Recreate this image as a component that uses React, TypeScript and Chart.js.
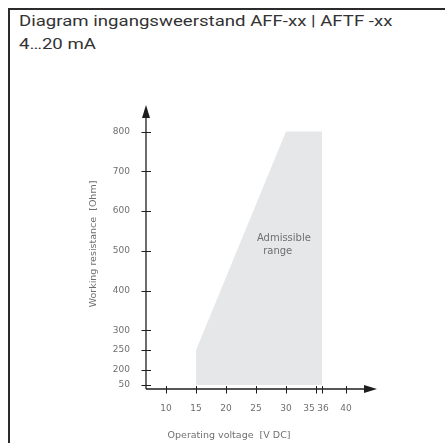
import React, { useEffect, useRef } from "react";
import { Chart, registerables } from "chart.js";

Chart.register(...registerables);

// ---- data ----
const titleLines = ["Diagram ingangsweerstand AFF-xx | AFTF -xx", "4…20 mA"];
const xAxisTitle = "Operating voltage  [V DC]";
const yAxisTitle = "Working resistance  [Ohm]";
const voltageTicks = [10, 15, 20, 25, 30, 35, 36, 40];
const resistanceTicks = [50, 200, 250, 300, 400, 500, 600, 700, 800];
const rangeVoltage = [15, 15, 30, 36, 36];
const rangeResistance = [50, 250, 800, 800, 50];
const areaLabelLines = ["Admissible", "range"];

// broken axis below 200 Ohm (compressed)
const mapR = (r: number) => (r >= 200 ? r : 200 - (200 - r) * 0.25);

const TICK_FONT = '"DejaVu Sans", "Liberation Sans", Roboto, sans-serif';
const TEXT_GREY = "#6f6f6f";
const AXIS_COLOR = "#1e1e1e";

const axesPlugin = {
  id: "customAxes",
  afterDraw(chart: any) {
    const { ctx, chartArea, scales } = chart;
    const xs = scales.x;
    const ys = scales.y;
    const x0 = chartArea.left;
    const y0 = chartArea.bottom;
    ctx.save();
    ctx.strokeStyle = AXIS_COLOR;
    ctx.fillStyle = AXIS_COLOR;
    ctx.lineWidth = 1.3;
    // y axis line
    ctx.beginPath();
    ctx.moveTo(x0, y0);
    ctx.lineTo(x0, chartArea.top + 12);
    ctx.stroke();
    // y arrow
    ctx.beginPath();
    ctx.moveTo(x0, chartArea.top);
    ctx.lineTo(x0 - 4, chartArea.top + 13);
    ctx.lineTo(x0 + 4, chartArea.top + 13);
    ctx.closePath();
    ctx.fill();
    // x axis line
    ctx.beginPath();
    ctx.moveTo(x0, y0);
    ctx.lineTo(chartArea.right - 12, y0);
    ctx.stroke();
    // x arrow
    ctx.beginPath();
    ctx.moveTo(chartArea.right, y0);
    ctx.lineTo(chartArea.right - 13, y0 - 4);
    ctx.lineTo(chartArea.right - 13, y0 + 4);
    ctx.closePath();
    ctx.fill();

    // ticks
    ctx.lineWidth = 1;
    resistanceTicks.forEach((r) => {
      const py = Math.round(ys.getPixelForValue(mapR(r))) + 0.5;
      ctx.beginPath();
      ctx.moveTo(x0 - 4.5, py);
      ctx.lineTo(x0 + 5, py);
      ctx.stroke();
    });
    voltageTicks.forEach((v) => {
      const px = Math.round(xs.getPixelForValue(v)) + 0.5;
      ctx.beginPath();
      ctx.moveTo(px, y0 - 3);
      ctx.lineTo(px, y0 + 4.5);
      ctx.stroke();
    });

    // x tick labels
    ctx.fillStyle = TEXT_GREY;
    ctx.font = `9px ${TICK_FONT}`;
    ctx.textAlign = "center";
    ctx.textBaseline = "middle";
    const nudge: Record<number, number> = { 35: -7, 36: 1 };
    voltageTicks.forEach((v) => {
      const px = xs.getPixelForValue(v) + (nudge[v] || 0);
      ctx.fillText(String(v), px, y0 + 20);
    });

    // axis titles
    ctx.font = `9.5px ${TICK_FONT}`;
    ctx.fillText(xAxisTitle, x0 + 83, y0 + 47);
    ctx.save();
    ctx.translate(x0 - 52, (chartArea.top + chartArea.bottom) / 2 - 3);
    ctx.rotate(-Math.PI / 2);
    ctx.fillText(yAxisTitle, 0, 0);
    ctx.restore();

    // area label
    ctx.font = `10px ${TICK_FONT}`;
    ctx.textAlign = "left";
    ctx.fillText(areaLabelLines[0], xs.getPixelForValue(25.15), ys.getPixelForValue(532));
    ctx.fillText(areaLabelLines[1], xs.getPixelForValue(26.2), ys.getPixelForValue(498));
    ctx.restore();
  },
};

export default function App() {
  const canvasRef = useRef<HTMLCanvasElement | null>(null);

  useEffect(() => {
    if (!canvasRef.current) return;
    const chart = new Chart(canvasRef.current, {
      type: "scatter",
      data: {
        datasets: [
          {
            data: rangeVoltage.map((v, i) => ({ x: v, y: mapR(rangeResistance[i]) })),
            showLine: true,
            fill: "shape",
            backgroundColor: "#e6e7e9",
            borderColor: "rgba(0,0,0,0)",
            borderWidth: 0,
            pointRadius: 0,
            tension: 0,
          } as any,
        ],
      },
      options: {
        responsive: false,
        animation: false,
        devicePixelRatio: 1,
        events: [],
        layout: { padding: { left: 0, top: 105, right: 68, bottom: 0 } },
        plugins: { legend: { display: false }, tooltip: { enabled: false }, title: { display: false } },
        scales: {
          x: {
            type: "linear",
            min: 6.67,
            max: 45.17,
            grid: { display: false, drawTicks: false },
            border: { display: false },
            ticks: { display: false },
            afterFit: (s: any) => {
              s.height = 54;
            },
          },
          y: {
            type: "linear",
            min: 152.2,
            max: 867,
            grid: { display: false, drawTicks: false },
            border: { display: false },
            afterBuildTicks: (s: any) => {
              s.ticks = resistanceTicks.map((r) => ({ value: mapR(r) }));
            },
            ticks: {
              padding: 16,
              color: TEXT_GREY,
              font: { family: TICK_FONT, size: 9 },
              autoSkip: false,
              callback: (_v: any, i: number) => String(resistanceTicks[i]),
            },
            afterFit: (s: any) => {
              s.width = 146;
            },
          },
        } as any,
      },
      plugins: [axesPlugin],
    });
    return () => chart.destroy();
  }, []);

  return (
    <div style={{ position: "fixed", left: 0, top: 0, width: 445, height: 443, overflow: "hidden", background: "#fff" }}>
      <div
        style={{
          position: "absolute",
          left: 8,
          top: 8,
          width: 600,
          height: 600,
          border: "2px solid #2b2b2b",
          boxSizing: "border-box",
        }}
      >
        <div
          style={{
            padding: "0 9px",
            fontFamily: "Roboto, sans-serif",
            fontSize: 15.5,
            lineHeight: "23px",
            color: "#333",
            transform: "scaleX(1.2)",
            transformOrigin: "9px 0",
            whiteSpace: "nowrap",
          }}
        >
          {titleLines.map((t, i) => (
            <div key={i}>{t}</div>
          ))}
        </div>
      </div>
      <canvas ref={canvasRef} width={445} height={443} style={{ position: "absolute", left: 0, top: 0 }} />
    </div>
  );
}
